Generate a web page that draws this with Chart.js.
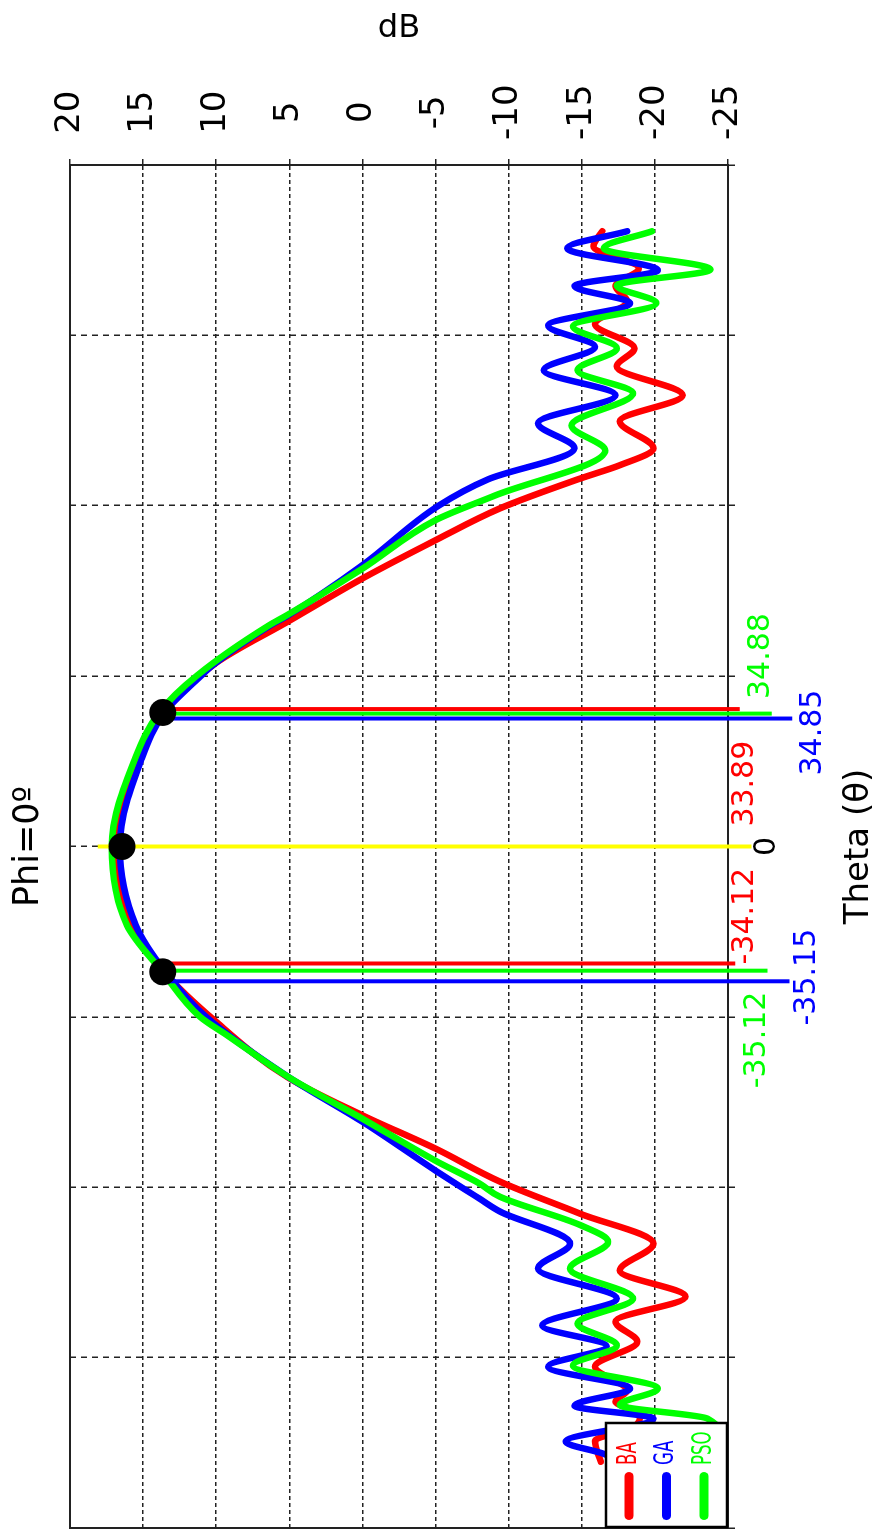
<!DOCTYPE html>
<html lang="en">
<head>
    <meta charset="UTF-8">
    <title>Phi=0º</title>
    <script src="https://cdn.jsdelivr.net/npm/chart.js"></script>
    <style>
        body {
            margin: 0;
            background: #fff;
        }

        #wrap {
            position: relative;
            width: 880px;
            height: 1530px;
            overflow: hidden;
        }

        /* the chart is drawn lying on its side, then turned upright */
        #chart {
            position: absolute;
            left: 0;
            top: 0;
            transform-origin: 0 0;
            transform: translate(0, 1530px) rotate(-90deg);
        }
    </style>
</head>
<body>
    <div id="wrap"><canvas id="chart" width="1530" height="880"></canvas></div>

    <script>
        // pattern cuts, theta in degrees, gain in dB
        const thetaBA = [-162.5, -157, -153.5, -150, -146.6, -143.7, -137.4, -130.8, -125.5, -118.9, -112, -104.9, -97, -88.5, -79.8, -71, -61, -46, -33, -20.8, 0, 23.2, 35.6, 48.5, 59.4, 70.8, 80.9, 89.3, 97.2, 100.7, 105.2, 112.3, 119.2, 126.8, 131.6, 138, 144, 148, 152.7, 158.5, 162.5];
        const dbBA = [-16.3, -15.9, -18.5, -19.0, -17.3, -18.1, -15.9, -18.8, -17.3, -22.1, -17.6, -19.9, -14.9, -9.4, -5.0, 0, 5.1, 10.1, 13.6, 15.8, 16.9, 15.3, 13.6, 10.0, 5.1, 0, -5.0, -9.4, -14.9, -17.6, -19.9, -17.6, -21.9, -17.4, -18.6, -15.9, -18.1, -17.3, -18.9, -15.8, -16.4];

        const thetaGA = [-165, -160.4, -157.2, -151.1, -147.7, -143.2, -137.4, -132, -126.5, -119.4, -111.5, -104.9, -96.4, -93, -85.6, -72.7, -60.8, -45, -33, -20.8, 0, 23.2, 35.6, 45.2, 48, 58.4, 61, 74.3, 90, 97, 105.2, 111.8, 119.2, 125.8, 132, 137.6, 143.5, 148, 152.2, 158, 162.5];
        const dbGA = [-19.0, -16.5, -13.9, -19.9, -14.5, -18.3, -12.7, -16.7, -12.3, -17.4, -12.0, -14.2, -9.4, -8.0, -5.0, 0, 5.1, 10.7, 13.5, 15.5, 16.6, 15.1, 13.5, 11.0, 10.2, 6.3, 5.1, 0, -5.2, -8.6, -14.5, -12.0, -17.3, -12.4, -15.9, -12.7, -18.3, -14.5, -20.2, -14.0, -18.1];

        const thetaPSO = [-160, -151.1, -147.5, -143.2, -137.1, -131.8, -126, -119.4, -111.5, -104.4, -100, -92.5, -89, -83, -71.9, -60.8, -50, -45, -33, -20.8, 0, 23.2, 35.6, 45.2, 58.4, 61, 73.4, 86.2, 92.6, 104.6, 111.2, 119.7, 125.8, 131.6, 137.4, 143.5, 148.2, 152.4, 158, 162.5];
        const dbPSO = [-25.0, -23.6, -17.6, -20.2, -14.4, -17.4, -14.7, -18.5, -14.2, -16.8, -14.9, -9.4, -8.0, -5.0, 0, 5.1, 9.2, 11.1, 13.7, 16.1, 17.15, 15.55, 13.85, 11.3, 6.4, 5.2, 0, -5.0, -9.0, -16.6, -14.3, -18.5, -14.7, -17.4, -14.4, -20.1, -17.4, -23.8, -16.5, -19.8];

        // beamwidth marker lines (theta, start dB, end dB) and which series they belong to
        const markerSeries = ['peak', 'BA', 'PSO', 'GA', 'BA', 'PSO', 'GA'];
        const markerTheta = [0, 36.3, 35.1, 33.8, -30.9, -32.8, -35.6];
        const markerFrom = [18.1, 13.66, 13.66, 13.66, 13.66, 13.66, 13.66];
        const markerTo = [-26.6, -25.8, -28.0, -29.4, -25.5, -27.7, -29.2];

        // marker captions
        const captionText = ['0', '33.89', '34.88', '34.85', '-34.12', '-35.12', '-35.15'];
        const captionSeries = ['axis', 'BA', 'PSO', 'GA', 'BA', 'PSO', 'GA'];
        const captionTheta = [0, 16.6, 50.3, 30.1, -18.4, -51.1, -34.5];
        const captionDb = [-27.7, -26.2, -27.3, -30.8, -26.2, -27.0, -30.4];

        // black dots: peak and half-power points
        const dotTheta = [35.4, 0, -33.1];
        const dotDb = [13.66, 16.44, 13.66];

        const yTicksMin = -25;
        const yTicksMax = 20;

        const colors = { BA: '#ff0000', GA: '#0000ff', PSO: '#00ff00', peak: '#ffff00', axis: '#000000' };

        Chart.defaults.font.family = "'DejaVu Sans', sans-serif";
        Chart.defaults.color = '#000';

        function curve(label, xs, ys, order) {
            return {
                label: label,
                data: xs.map((x, i) => ({ x: x, y: ys[i] })),
                borderColor: colors[label],
                borderWidth: 6.5,
                borderCapStyle: 'round',
                borderJoinStyle: 'round',
                cubicInterpolationMode: 'monotone',
                pointRadius: 0,
                fill: false,
                order: order,
                legendItem: true
            };
        }

        const markerSets = markerTheta.map((t, i) => ({
            label: 'marker ' + i,
            data: [{ x: t, y: markerFrom[i] }, { x: t, y: markerTo[i] }],
            borderColor: colors[markerSeries[i]],
            borderWidth: 4,
            borderCapStyle: 'butt',
            pointRadius: 0,
            clip: false,
            order: 1
        }));

        const dotSet = {
            type: 'scatter',
            label: 'points',
            data: dotTheta.map((t, i) => ({ x: t, y: dotDb[i] })),
            backgroundColor: '#000',
            borderWidth: 0,
            pointRadius: 13.5,
            clip: false,
            order: 0
        };

        // solid box round the plot area
        const frame = {
            id: 'frame',
            beforeDatasetsDraw(chart) {
                const { ctx, chartArea: a } = chart;
                ctx.save();
                ctx.strokeStyle = '#222';
                ctx.lineWidth = 2;
                ctx.strokeRect(a.left, a.top, a.right - a.left, a.bottom - a.top);
                ctx.restore();
            }
        };

        // numbers under the marker lines
        const captions = {
            id: 'captions',
            afterDatasetsDraw(chart) {
                const { ctx, scales } = chart;
                ctx.save();
                ctx.font = "30px 'DejaVu Sans'";
                ctx.textAlign = 'center';
                ctx.textBaseline = 'middle';
                captionText.forEach((txt, i) => {
                    ctx.fillStyle = colors[captionSeries[i]];
                    ctx.fillText(txt, scales.x.getPixelForValue(captionTheta[i]), scales.y.getPixelForValue(captionDb[i]));
                });
                ctx.restore();
            }
        };

        // framed legend in the lower left corner of the plot
        const boxLegend = {
            id: 'boxLegend',
            afterDatasetsDraw(chart) {
                const { ctx, chartArea: a } = chart;
                const items = chart.data.datasets.filter(d => d.legendItem);
                const w = 105, h = 122;
                ctx.save();
                ctx.fillStyle = '#fff';
                ctx.fillRect(a.left, a.bottom - h, w, h);
                ctx.strokeStyle = '#000';
                ctx.lineWidth = 2.5;
                ctx.strokeRect(a.left + 1, a.bottom - h, w - 1, h - 1);
                items.forEach((d, i) => {
                    const y = a.bottom - 99 + i * 37.5;
                    ctx.strokeStyle = d.borderColor;
                    ctx.lineWidth = 9;
                    ctx.lineCap = 'round';
                    ctx.beginPath();
                    ctx.moveTo(a.left + 12.5, y);
                    ctx.lineTo(a.left + 51.5, y);
                    ctx.stroke();
                    ctx.save();
                    ctx.translate(a.left + 63, y);
                    ctx.scale(0.64, 1);
                    ctx.fillStyle = d.borderColor;
                    ctx.font = "26px 'DejaVu Sans'";
                    ctx.textAlign = 'left';
                    ctx.textBaseline = 'middle';
                    ctx.fillText(d.label, 0, 0);
                    ctx.restore();
                });
                ctx.restore();
            }
        };

        new Chart(document.getElementById('chart'), {
            type: 'line',
            data: {
                datasets: [
                    curve('BA', thetaBA, dbBA, 4),
                    curve('GA', thetaGA, dbGA, 3),
                    curve('PSO', thetaPSO, dbPSO, 2),
                    ...markerSets,
                    dotSet
                ]
            },
            options: {
                responsive: false,
                animation: false,
                events: [],
                layout: { autoPadding: false, padding: { left: 2, right: 0, top: 0, bottom: 0 } },
                plugins: {
                    legend: { display: false },
                    tooltip: { enabled: false },
                    title: {
                        display: true,
                        text: 'Phi=0º',
                        fullSize: false,
                        color: '#000',
                        font: { size: 35, weight: 'normal' },
                        padding: { top: 8, bottom: 20 }
                    }
                },
                scales: {
                    x: {
                        type: 'linear',
                        min: -180,
                        max: 180,
                        ticks: { display: false, stepSize: 45 },
                        grid: { color: '#222', lineWidth: 1.5, tickLength: 7, tickColor: '#222' },
                        border: { display: false, dash: [6, 5] },
                        title: { display: true, text: 'Theta (θ)', color: '#000', font: { size: 34 }, padding: 0 },
                        afterFit: s => { s.height = 152; }
                    },
                    y: {
                        position: 'right',
                        min: yTicksMin,
                        max: yTicksMax,
                        ticks: { stepSize: 5, color: '#000', font: { size: 34 }, padding: 19, crossAlign: 'center' },
                        grid: { color: '#222', lineWidth: 1.5, tickLength: 6, tickColor: '#222' },
                        border: { display: false, dash: [4, 3] },
                        title: { display: true, text: 'dB', color: '#000', font: { size: 32 }, padding: { top: 9, bottom: 0 } },
                        afterFit: s => { s.width = 165; }
                    }
                }
            },
            plugins: [frame, captions, boxLegend]
        });
    </script>
</body>
</html>
